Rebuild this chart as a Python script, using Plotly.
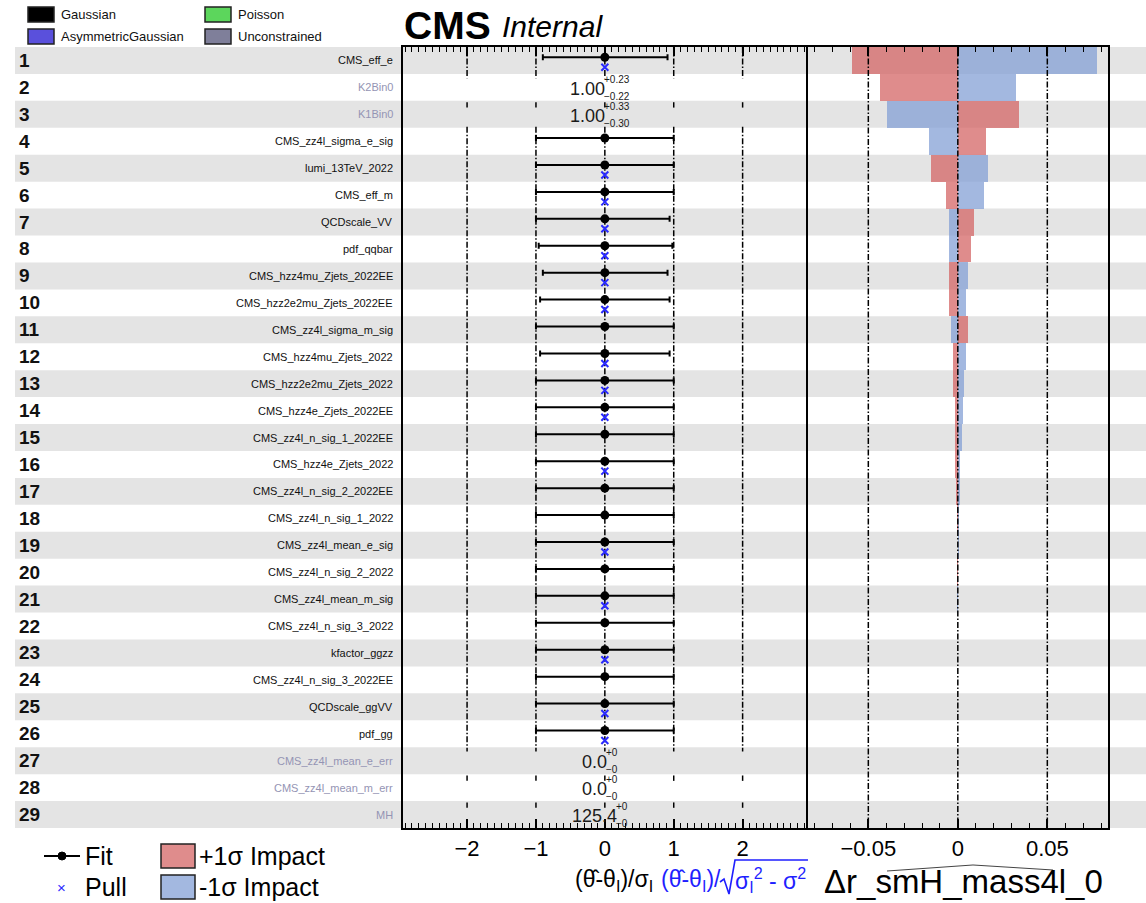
import plotly.graph_objects as go

W, H = 1146, 903
def px(x): return x / W
def py(y): return 1 - y / H

# ---------------- data ----------------
names = ["CMS_eff_e", "K2Bin0", "K1Bin0", "CMS_zz4l_sigma_e_sig", "lumi_13TeV_2022",
         "CMS_eff_m", "QCDscale_VV", "pdf_qqbar", "CMS_hzz4mu_Zjets_2022EE",
         "CMS_hzz2e2mu_Zjets_2022EE", "CMS_zz4l_sigma_m_sig", "CMS_hzz4mu_Zjets_2022",
         "CMS_hzz2e2mu_Zjets_2022", "CMS_hzz4e_Zjets_2022EE", "CMS_zz4l_n_sig_1_2022EE",
         "CMS_hzz4e_Zjets_2022", "CMS_zz4l_n_sig_2_2022EE", "CMS_zz4l_n_sig_1_2022",
         "CMS_zz4l_mean_e_sig", "CMS_zz4l_n_sig_2_2022", "CMS_zz4l_mean_m_sig",
         "CMS_zz4l_n_sig_3_2022", "kfactor_ggzz", "CMS_zz4l_n_sig_3_2022EE",
         "QCDscale_ggVV", "pdf_gg", "CMS_zz4l_mean_e_err", "CMS_zz4l_mean_m_err", "MH"]
rows = list(range(1, len(names) + 1))
constraint = ["G", "U", "U"] + ["G"] * 23 + ["U", "U", "U"]

fit_val = [0.0, None, None] + [0.0] * 23 + [None, None, None]
fit_lo = [0.90, None, None, 1.0, 1.0, 1.0, 1.0, 0.96, 0.90, 0.94, 1.0, 0.94, 1.0, 1.0, 1.0,
          1.0, 1.0, 1.0, 1.0, 1.0, 1.0, 1.0, 1.0, 1.0, 1.0, 1.0, None, None, None]
fit_hi = [0.91, None, None, 1.0, 1.0, 1.0, 0.94, 0.98, 0.91, 0.94, 1.0, 0.94, 1.0, 1.0, 1.0,
          1.0, 1.0, 1.0, 1.0, 1.0, 1.0, 1.0, 1.0, 1.0, 1.0, 1.0, None, None, None]
pull_val = [0.0, None, None, None, 0.0, 0.0, 0.0, 0.0, 0.0, 0.0, None, 0.0, 0.0, 0.0, None,
            0.0, None, None, 0.0, None, 0.0, None, 0.0, None, 0.0, 0.0, None, None, None]

# unconstrained parameters: best fit value and errors
unc_rows = [2, 3, 27, 28, 29]
unc_val = ["1.00", "1.00", "0.0", "0.0", "125.4"]
unc_up = ["+0.23", "+0.33", "+0", "+0", "+0"]
unc_dn = ["\u22120.22", "\u22120.30", "\u22120", "\u22120", "\u22120"]

impact_up = [-0.0594, -0.0432, 0.0339, 0.0155, -0.0149, -0.0065, 0.0093, 0.0071, -0.0052,
             -0.0052, 0.0058, -0.0026, -0.0026, -0.0017, -0.0017, -0.0013, -0.0008, -0.0005,
             0.0003, -0.0002, 0.0002, -0.0001, 0.0001, 0.0001, 0.0001, 0.0, 0.0, 0.0, 0.0]
impact_dn = [0.0779, 0.0324, -0.0395, -0.0162, 0.0168, 0.0144, -0.0052, -0.0052, 0.0056,
             0.0045, -0.0037, 0.0045, 0.0034, 0.0030, 0.0022, 0.0012, 0.0010, 0.0007,
             0.0004, 0.0003, -0.0002, 0.0002, 0.0001, -0.0001, 0.0001, 0.0, 0.0, 0.0, 0.0]

fit_ticks = [-2, -1, 0, 1, 2]
imp_ticks = [-0.05, 0, 0.05]

# ---------------- styles ----------------
FONT = "Liberation Sans, Arial, sans-serif"
RED = "rgba(210,95,95,0.72)"
BLUE = "rgba(128,156,212,0.72)"
GRAY_BAND = "#e4e4e4"
UNC_COL = "#9494b4"
DASHDOT = "6px,2px,1.5px,2px"
PULL_COL = "#2a2aff"
TITLE_BLUE = "#1f1fff"

fig = go.Figure()

# fit-panel reference lines (drawn per block of constrained rows)
seg_x, seg_y = [], []
segments = []
i = 0
n = len(rows)
while i < n:
    if constraint[i] == "G":
        j = i
        while j + 1 < n and constraint[j + 1] == "G":
            j += 1
        y0 = rows[i] - 0.5 - (0.04 if i > 0 else 0.0)
        y1 = rows[j] + 0.5 + 0.16
        segments.append((y0, min(y1, n + 0.5)))
        i = j + 1
    else:
        if i + 1 < n and constraint[i + 1] == "U":
            b = rows[i] + 0.5
            segments.append((b + 0.05, b + 0.25))
        i += 1
for xv in fit_ticks:
    for (y0, y1) in segments:
        seg_x += [xv, xv, None]
        seg_y += [y0, y1, None]
fig.add_trace(go.Scatter(x=seg_x, y=seg_y, mode="lines", xaxis="x", yaxis="y",
                         line=dict(color="black", width=1.5, dash=DASHDOT),
                         hoverinfo="skip", showlegend=False))

# impact-panel reference lines
ix, iy = [], []
for xv in imp_ticks:
    ix += [xv, xv, None]
    iy += [0.5, n + 0.5, None]
fig.add_trace(go.Scatter(x=ix, y=iy, mode="lines", xaxis="x2", yaxis="y2",
                         line=dict(color="black", width=1.5, dash=DASHDOT),
                         hoverinfo="skip", showlegend=False))

# impact bars
fig.add_trace(go.Bar(x=impact_up, y=rows, orientation="h", width=1.0, base=0,
                     marker=dict(color=RED, line=dict(width=0)),
                     xaxis="x2", yaxis="y2", showlegend=False))
fig.add_trace(go.Bar(x=impact_dn, y=rows, orientation="h", width=1.0, base=0,
                     marker=dict(color=BLUE, line=dict(width=0)),
                     xaxis="x2", yaxis="y2", showlegend=False))

# fit points
fig.add_trace(go.Scatter(
    x=[v for v in fit_val if v is not None],
    y=[r - 0.12 for r, v in zip(rows, fit_val) if v is not None],
    mode="markers", xaxis="x", yaxis="y",
    marker=dict(color="black", size=9, symbol="circle"),
    error_x=dict(type="data", symmetric=False,
                 array=[h for h, v in zip(fit_hi, fit_val) if v is not None],
                 arrayminus=[l for l, v in zip(fit_lo, fit_val) if v is not None],
                 color="black", thickness=2, width=3),
    showlegend=False))

# pulls
fig.add_trace(go.Scatter(
    x=[v for v in pull_val if v is not None],
    y=[r + 0.25 for r, v in zip(rows, pull_val) if v is not None],
    mode="markers", xaxis="x", yaxis="y",
    marker=dict(color=PULL_COL, size=7, symbol="x-thin", line=dict(color=PULL_COL, width=2)),
    showlegend=False))

shapes = []
annotations = []

# alternating row bands
for r in rows:
    if r % 2 == 1:
        shapes.append(dict(type="rect", xref="paper", yref="y", x0=px(15), x1=1.0,
                           y0=r - 0.5, y1=r + 0.5, fillcolor=GRAY_BAND,
                           line=dict(width=0), layer="below"))

# row numbers and names
for r, nm, c in zip(rows, names, constraint):
    annotations.append(dict(x=px(17), y=r, xref="paper", yref="y", text="<b>%d</b>" % r,
                            showarrow=False, xanchor="left", yanchor="middle",
                            font=dict(family=FONT, size=19, color="#111111")))
    annotations.append(dict(x=px(395), y=r, xref="paper", yref="y", text=nm,
                            showarrow=False, xanchor="right", yanchor="middle",
                            font=dict(family=FONT, size=11,
                                      color="#111111" if c == "G" else UNC_COL)))

# best-fit text for unconstrained parameters
CW = {".": 0.278, "+": 0.584, "\u2212": 0.584}
def tw(s, fs):
    return sum(CW.get(ch, 0.556) for ch in s) * fs
for r, v, u, d in zip(unc_rows, unc_val, unc_up, unc_dn):
    wm = tw(v, 18)
    ws = max(tw(u, 10), tw(d, 10))
    start = -4 - (wm + 1 + ws) / 2
    annotations.append(dict(x=0, y=r, xref="x", yref="y", text=v, showarrow=False,
                            xanchor="right", yanchor="middle", xshift=start + wm + 2, yshift=-1.5,
                            font=dict(family=FONT, size=18, color="#1a1a1a")))
    annotations.append(dict(x=0, y=r, xref="x", yref="y", text=u, showarrow=False,
                            xanchor="left", yanchor="middle", xshift=start + wm - 3, yshift=8,
                            font=dict(family=FONT, size=10, color="#1a1a1a")))
    annotations.append(dict(x=0, y=r, xref="x", yref="y", text=d, showarrow=False,
                            xanchor="left", yanchor="middle", xshift=start + wm - 3, yshift=-9,
                            font=dict(family=FONT, size=10, color="#1a1a1a")))

# top legend
top_leg = [("Gaussian", "#000000", 28, 7), ("AsymmetricGaussian", "#5a50dc", 28, 29),
           ("Poisson", "#5cd65c", 205, 7), ("Unconstrained", "#7f7f9a", 205, 29)]
for lab, col, x0, y0 in top_leg:
    shapes.append(dict(type="rect", xref="paper", yref="paper", x0=px(x0), x1=px(x0 + 26),
                       y0=py(y0), y1=py(y0 + 15), fillcolor=col,
                       line=dict(color="#222222", width=1.5)))
    annotations.append(dict(x=px(x0 + 31), y=py(y0 + 7.5), xref="paper", yref="paper",
                            text=lab, showarrow=False, xanchor="left", yanchor="middle",
                            font=dict(family=FONT, size=13, color="#111111")))

annotations.append(dict(x=px(402), y=py(25), xref="paper", yref="paper", text="<b>CMS</b>",
                        showarrow=False, xanchor="left", yanchor="middle",
                        font=dict(family=FONT, size=39, color="black")))
annotations.append(dict(x=px(500), y=py(27), xref="paper", yref="paper", text="<i>Internal</i>",
                        showarrow=False, xanchor="left", yanchor="middle",
                        font=dict(family=FONT, size=30, color="black")))

# bottom legend
shapes.append(dict(type="line", xref="paper", yref="paper", x0=px(44), x1=px(80),
                   y0=py(856), y1=py(856), line=dict(color="black", width=2)))
shapes.append(dict(type="circle", xref="paper", yref="paper", x0=px(58), x1=px(66),
                   y0=py(852), y1=py(860), fillcolor="black", line=dict(color="black", width=1)))
annotations.append(dict(x=px(61), y=py(887), xref="paper", yref="paper", text="\u00d7",
                        showarrow=False, xanchor="center", yanchor="middle",
                        font=dict(family=FONT, size=15, color=PULL_COL)))
annotations.append(dict(x=px(83), y=py(856), xref="paper", yref="paper", text="Fit",
                        showarrow=False, xanchor="left", yanchor="middle",
                        font=dict(family=FONT, size=25, color="black")))
annotations.append(dict(x=px(83), y=py(887), xref="paper", yref="paper", text="Pull",
                        showarrow=False, xanchor="left", yanchor="middle",
                        font=dict(family=FONT, size=25, color="black")))
for lab, col, yc in [("+1\u03c3 Impact", RED, 856), ("-1\u03c3 Impact", BLUE, 887)]:
    shapes.append(dict(type="rect", xref="paper", yref="paper", x0=px(161), x1=px(195),
                       y0=py(yc - 12), y1=py(yc + 12), fillcolor=col,
                       line=dict(color="#222222", width=1.5)))
    annotations.append(dict(x=px(197), y=py(yc), xref="paper", yref="paper", text=lab,
                            showarrow=False, xanchor="left", yanchor="middle",
                            font=dict(family=FONT, size=25, color="black")))

# fit axis title: black part, blue part with a drawn radical
annotations.append(dict(x=px(655), y=py(880), xref="paper", yref="paper",
                        text="(\u03b8\u0302-\u03b8<sub>I</sub>)/\u03c3<sub>I</sub>",
                        showarrow=False, xanchor="right", yanchor="middle",
                        font=dict(family=FONT, size=23, color="black")))
annotations.append(dict(x=px(659), y=py(880), xref="paper", yref="paper",
                        text="(\u03b8\u0302-\u03b8<sub>I</sub>)/",
                        showarrow=False, xanchor="left", yanchor="middle",
                        font=dict(family=FONT, size=23, color=TITLE_BLUE)))
annotations.append(dict(x=px(733), y=py(880), xref="paper", yref="paper",
                        text="\u03c3<sub>I</sub><sup>2</sup> - \u03c3<sup>2</sup>",
                        showarrow=False, xanchor="left", yanchor="middle",
                        font=dict(family=FONT, size=23, color=TITLE_BLUE)))
shapes.append(dict(type="path", xref="paper", yref="paper",
                   path="M %f,%f L %f,%f L %f,%f L %f,%f L %f,%f" % (
                       px(720), py(882), px(724), py(879), px(729), py(894),
                       px(735), py(860), px(808), py(860)),
                   line=dict(color=TITLE_BLUE, width=1.6)))

annotations.append(dict(x=px(822), y=py(881), xref="paper", yref="paper",
                        text="\u0394r_smH_mass4l_0",
                        showarrow=False, xanchor="left", yanchor="middle",
                        font=dict(family=FONT, size=33, color="black")))
shapes.append(dict(type="path", xref="paper", yref="paper",
                   path="M %f,%f L %f,%f L %f,%f L %f,%f" % (px(887), py(871), px(973), py(865),
                                                             px(1053), py(870), px(1053), py(873)),
                   line=dict(color="#444444", width=1)))

axis_common = dict(showline=True, linecolor="black", linewidth=2, mirror="allticks",
                   ticks="inside", tickcolor="black", ticklen=9, tickwidth=1.5,
                   showgrid=False, zeroline=False,
                   tickfont=dict(family=FONT, size=22, color="black"))

fig.update_layout(
    width=W, height=H,
    margin=dict(l=0, r=0, t=0, b=0),
    paper_bgcolor="white", plot_bgcolor="rgba(0,0,0,0)",
    barmode="overlay", bargap=0,
    showlegend=False,
    xaxis=dict(domain=[px(403), px(806)], range=[-2.93, 2.92], anchor="y",
               tickvals=fit_ticks, ticktext=["\u22122", "\u22121", "0", "1", "2"],
               minor=dict(dtick=0.1, tick0=0, ticks="inside", ticklen=5, tickwidth=1.2,
                          tickcolor="black"),
               **axis_common),
    xaxis2=dict(domain=[px(808), px(1108)], range=[-0.0837, 0.0839], anchor="y2",
                tickvals=imp_ticks, ticktext=["\u22120.05", "0", "0.05"],
                minor=dict(dtick=0.01, tick0=0, ticks="inside", ticklen=5, tickwidth=1.2,
                           tickcolor="black"),
                **axis_common),
    yaxis=dict(domain=[py(828), py(47)], range=[n + 0.5, 0.5], anchor="x",
               showline=True, linecolor="black", linewidth=2, mirror=True,
               showticklabels=False, ticks="", showgrid=False, zeroline=False),
    yaxis2=dict(domain=[py(828), py(47)], range=[n + 0.5, 0.5], anchor="x2", matches="y",
                showline=True, linecolor="black", linewidth=2, mirror=True,
                showticklabels=False, ticks="", showgrid=False, zeroline=False),
    shapes=shapes,
    annotations=annotations,
)

fig.write_html("out.html")
